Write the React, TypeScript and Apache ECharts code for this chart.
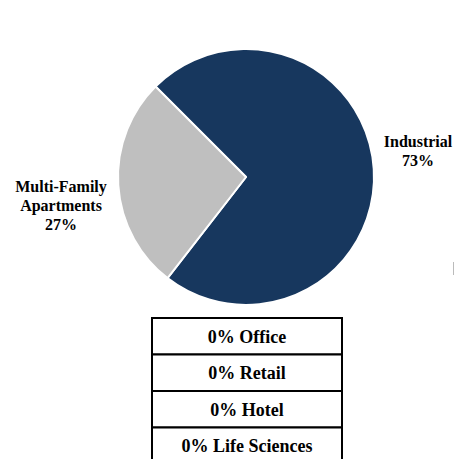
import React, { useEffect, useRef } from "react";
import * as echarts from "echarts";

const categories = ["Industrial", "Multi-Family\nApartments"];
const values = [73, 27];
const colors = ["#17375E", "#BFBFBF"];
const otherCategories = ["Office", "Retail", "Hotel", "Life Sciences"];
const otherValues = [0, 0, 0, 0];

const FONT = "'Liberation Serif', 'Times New Roman', serif";

export default function App() {
  const ref = useRef<HTMLDivElement>(null);
  useEffect(() => {
    if (!ref.current) return;
    const chart = echarts.init(ref.current, undefined, { renderer: "svg" });
    const labelPos = [
      { x: 418, y: 151 },
      { x: 61, y: 205 },
    ];
    const tableTop = 318;
    const rowH = 36.5;
    const tableLeft = 152;
    const tableW = 190;
    const graphics: any[] = [];
    otherCategories.forEach((c, i) => {
      graphics.push({
        type: "rect",
        shape: { x: tableLeft, y: tableTop + i * rowH, width: tableW, height: rowH },
        style: { fill: "#fff", stroke: "#000", lineWidth: 2 },
        z: 1,
      });
    });
    otherCategories.forEach((c, i) => {
      graphics.push({
        type: "text",
        x: tableLeft + tableW / 2,
        y: tableTop + i * rowH + rowH / 2 + 0.5,
        style: {
          text: `${otherValues[i]}% ${c}`,
          font: `bold 18px ${FONT}`,
          fill: "#000",
          align: "center",
          verticalAlign: "middle",
        },
        z: 2,
      });
    });
    graphics.push({
      type: "line",
      shape: { x1: 453.5, y1: 262, x2: 453.5, y2: 275 },
      style: { stroke: "#bbb", lineWidth: 1 },
    });
    chart.setOption({
      animation: false,
      backgroundColor: "#fff",
      graphic: graphics,
      series: [
        {
          type: "pie",
          center: [246, 177],
          radius: 128,
          startAngle: 135,
          clockwise: true,
          data: categories.map((n, i) => ({
            name: n,
            value: values[i],
            itemStyle: { color: colors[i] },
          })),
          itemStyle: { borderColor: "#fff", borderWidth: 2 },
          label: {
            show: true,
            position: "inside",
            overflow: "none",
            formatter: (p: any) => `${p.name}\n${p.value}%`,
            fontFamily: FONT,
            fontWeight: "bold",
            fontSize: 16,
            lineHeight: 19,
            color: "#000",
            align: "center",
          },
          labelLine: { show: false },
          labelLayout: (p: any) => ({
            x: labelPos[p.dataIndex].x,
            y: labelPos[p.dataIndex].y,
            align: "center",
            verticalAlign: "middle",
          }),
          emphasis: { disabled: true },
        },
      ],
    });
    return () => chart.dispose();
  }, []);
  return (
    <div
      ref={ref}
      style={{ position: "fixed", left: 0, top: 0, width: 455, height: 459 }}
    />
  );
}
